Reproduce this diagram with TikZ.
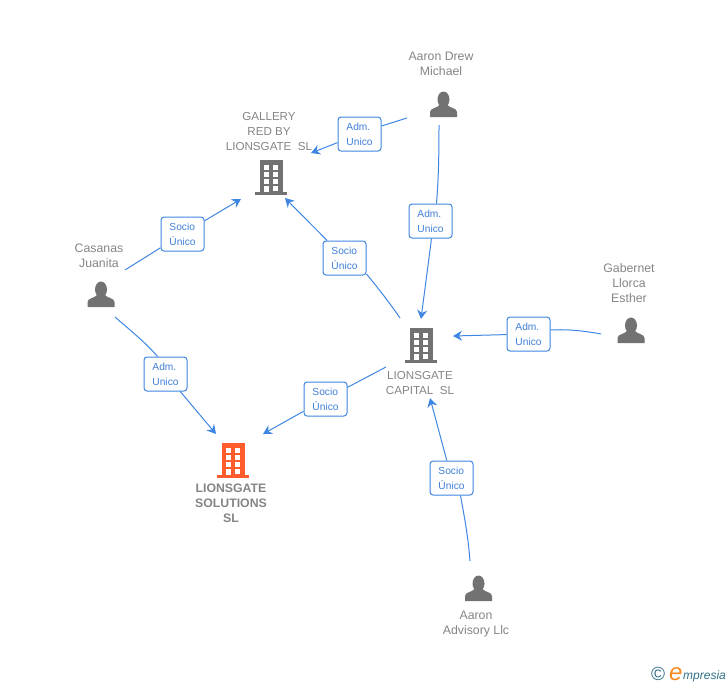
\documentclass[tikz,border=0pt]{standalone}
\usepackage{fontspec}
\setmainfont{Liberation Sans}
\usetikzlibrary{arrows.meta}
\definecolor{linkblue}{HTML}{3F86E2}
\definecolor{boxtext}{HTML}{3F7FD8}
\definecolor{nametext}{HTML}{858585}
\definecolor{iconcol}{HTML}{727272}
\definecolor{hotcol}{HTML}{FF5C2E}
\definecolor{logoteal}{HTML}{2F6F86}
\definecolor{logoorange}{HTML}{F58A1F}
\tikzset{
  rolebox/.style={draw=linkblue,fill=white,rounded corners=3pt,line width=1pt,minimum width=43pt,minimum height=34pt,
    inner sep=0pt,align=left,text=boxtext,font=\fontsize{10.2}{15}\selectfont},
  namelabel/.style={align=center,text=nametext,font=\fontsize{12.3}{15}\selectfont},
  firmlabel/.style={namelabel,font=\fontsize{11.6}{15}\selectfont},
  link/.style={draw=linkblue,line width=1pt},
  linkto/.style={link,-{Stealth[length=9pt,width=10pt,inset=3pt]}},
  pics/person/.style={code={
    \fill[iconcol] (0,-5.5) ellipse (6 and 8);
    \fill[iconcol] (-13.5,12) -- (-13.5,7) .. controls (-13.5,3) and (-6,3) .. (-4,0) -- (4,0)
      .. controls (6,3) and (13.5,3) .. (13.5,7) -- (13.5,12) -- cycle;
  }},
  pics/building/.style={code={
    \fill[#1] (-11,-17) rectangle (12,15);
    \fill[#1] (-16,15) rectangle (16,18);
    \foreach \wy in {-12,-5,2} {
      \fill[white] (-7,\wy) rectangle ++(5,4.5);
      \fill[white] (2,\wy) rectangle ++(5,4.5);
    }
    \fill[white] (-7,9) rectangle (-2,15);
    \fill[white] (2,9) rectangle ++(5,4.5);
  }}
}
\begin{document}
\begin{tikzpicture}[x=1pt,y=-1pt]
\useasboundingbox (0,0) rectangle (728,685);
% people and companies
\pic (drewicon) at (443.5,105) {person};
\node[namelabel] (drew) at (441,64) {Aaron Drew\\Michael};
\pic (casanasicon) at (101,295) {person};
\node[namelabel] (casanas) at (99,256) {Casanas\\Juanita};
\pic (gaberneticon) at (631,331) {person};
\node[namelabel] (gabernet) at (629,283.5) {Gabernet\\Llorca\\Esther};
\pic (advisoryicon) at (478.5,589) {person};
\node[namelabel] (advisory) at (476,624.5) {Aaron\\Advisory Llc};
\pic (galleryicon) at (271,177) {building=iconcol};
\node[firmlabel] (gallery) at (269,131.5) {GALLERY\\RED BY\\LIONSGATE\ \ SL};
\pic (capitalicon) at (421,345) {building=iconcol};
\node[firmlabel] (capital) at (420,383) {LIONSGATE\\CAPITAL\ \ SL};
\pic (solutionsicon) at (233,460) {building=hotcol};
\node[namelabel,font=\fontsize{12.3}{15}\selectfont\bfseries] (solutions) at (231,503.5) {LIONSGATE\\SOLUTIONS\\SL};
% role boxes
\node[rolebox] (admgallery) at (359.5,134) {Adm.\\Unico};
\node[rolebox] (admcapital) at (430.5,221) {Adm.\\Unico};
\node[rolebox] (sociogallery) at (182.5,234) {Socio\\Único};
\node[rolebox] (sociored) at (344.5,258) {Socio\\Único};
\node[rolebox] (admllorca) at (528.5,334) {Adm.\\Unico};
\node[rolebox] (admjuanita) at (165.5,374) {Adm.\\Unico};
\node[rolebox] (sociosol) at (325.5,399) {Socio\\Único};
\node[rolebox] (sociocap) at (451.5,478) {Socio\\Único};
% free ends
\coordinate (drewleft) at (407,118);
\coordinate (drewdown) at (439,125);
\coordinate (galleryright) at (311,153);
\coordinate (capitaltop) at (421,319);
\coordinate (casanasright) at (125,270);
\coordinate (gallerybl) at (241,199);
\coordinate (capitaltl) at (400,318);
\coordinate (gallerybr) at (285,198);
\coordinate (gabernetleft) at (601,334);
\coordinate (capitalright) at (453,336);
\coordinate (casanasdown) at (115,317);
\coordinate (solutionstr) at (216,434);
\coordinate (capitalbl) at (386,367);
\coordinate (solutionsr) at (263,434);
\coordinate (advisorytop) at (470,561);
\coordinate (capitalbot) at (430,398);
% links
\draw[link] (drewleft) -- ([yshift=8pt]admgallery.east);
\draw[linkto] (admgallery) -- (galleryright);
\draw[link] (drewdown) .. controls (439,165) and (438,185) .. ([xshift=6pt]admcapital.north);
\draw[linkto] ([xshift=1pt]admcapital.south) -- (capitaltop);
\draw[link] (casanasright) -- (sociogallery);
\draw[linkto] (sociogallery) -- (gallerybl);
\draw[link] (capitaltl) .. controls (389,302) and (378,288) .. ([yshift=-16pt]sociored.east);
\draw[linkto] (sociored) -- (gallerybr);
\draw[link] (gabernetleft) .. controls (585,331) and (568,329) .. ([yshift=4pt]admllorca.east);
\draw[linkto] (admllorca) -- (capitalright);
\draw[link] (casanasdown) .. controls (130,330) and (146,343) .. ([xshift=-8pt]admjuanita.north);
\draw[linkto] (admjuanita) -- (solutionstr);
\draw[link] (capitalbl) -- (sociosol);
\draw[linkto] (sociosol) -- (solutionsr);
\draw[link] (advisorytop) .. controls (468,535) and (464,515) .. ([xshift=9pt]sociocap.south);
\draw[linkto] (sociocap) -- (capitalbot);
% logo
\node[text=logoteal,inner sep=0pt,font=\fontsize{19}{19}\selectfont] (logosign) at (658,674) {\textcopyright};
\node[text=logoorange,inner sep=0pt,anchor=base west,font=\fontsize{24}{24}\selectfont\itshape] (logoe) at (669,680) {e};
\node[text=logoteal,inner sep=0pt,anchor=base west,font=\fontsize{12}{12}\selectfont\itshape] (logotext) at (683,679) {mpresia};
\end{tikzpicture}
\end{document}
